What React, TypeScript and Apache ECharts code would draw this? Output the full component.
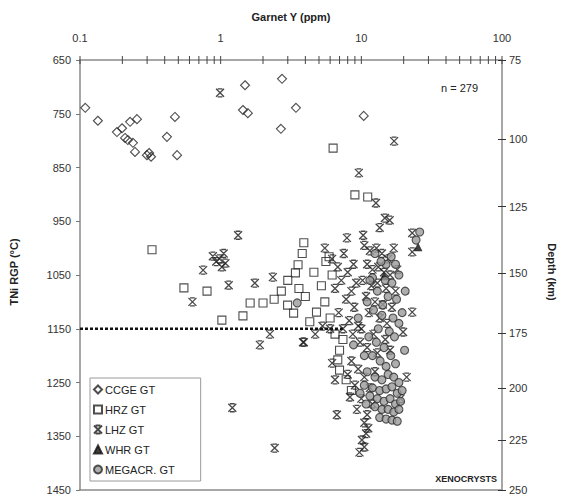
import React, { useEffect, useRef } from 'react';
import * as echarts from 'echarts';

// Garnet Y (ppm), TNi temperature (°C)
const ccgeGT: number[][] = [
  [0.109, 739], [0.134, 763], [0.183, 784], [0.199, 777], [0.227, 765], [0.254, 760],
  [0.209, 795], [0.219, 799], [0.238, 804], [0.246, 821], [0.299, 827], [0.32, 830],
  [0.31, 823], [0.473, 756], [0.415, 793], [0.49, 827], [1.49, 697], [1.44, 743],
  [1.56, 749], [2.73, 685], [3.43, 739], [2.68, 778], [10.4, 754],
];

const hrzGT: number[][] = [
  [0.325, 1003], [0.548, 1074], [0.8, 1080], [1.02, 1134], [1.44, 1126], [1.62, 1102],
  [2.0, 1102], [6.3, 814], [9.0, 901], [11.1, 905], [3.9, 990], [3.8, 1010],
  [3.55, 1031], [3.4, 1046], [5.9, 1016], [5.6, 1025], [3.0, 1060], [2.7, 1080],
  [2.99, 1106], [3.3, 1121], [4.8, 1119], [4.3, 1137], [4.0, 1090], [5.2, 1070],
  [6.2, 1050], [4.6, 1045], [2.4, 1095], [7.0, 1190], [6.8, 1208], [7.0, 1227],
  [7.4, 1170], [6.5, 1160], [7.8, 1245], [8.5, 1265], [3.6, 1075], [5.5, 1100], [6.0, 1130],
];

const lhzGT: number[][] = [
  [0.99, 711], [17.1, 801], [9.6, 860], [1.33, 976], [0.75, 1041], [0.88, 1015],
  [0.98, 1020], [1.08, 1028], [1.02, 1035], [0.93, 1025], [1.05, 1010], [1.14, 1069],
  [0.63, 1100], [1.75, 1065], [1.9, 1180], [1.21, 1297], [2.42, 1372],
  [10.1, 1357], [10.8, 1345], [9.7, 1380], [10.5, 1370], [11.2, 1335],
  [23, 1119], [19.8, 1156], [23, 1007], [23, 972], [21, 1240], [19, 1280],
  [12.7, 916], [14.7, 944], [15.9, 948], [13.5, 962], [10.3, 976], [7.9, 981], [2.35, 1054],
  [5.5, 1000], [6.2, 1020], [6.8, 1035], [7.5, 1010], [8.0, 1045], [8.8, 1030],
  [7.2, 1060], [6.5, 1075], [8.5, 1080], [9.2, 1065], [7.8, 1095], [8.9, 1110],
  [6.9, 1120], [8.2, 1135], [9.5, 1145], [7.4, 1150], [6.0, 1150], [5.3, 1145],
  [4.7, 1160], [3.9, 1175], [8.7, 1160], [9.8, 1175],
  [10.5, 995], [11.5, 1005], [12.8, 1000], [14.0, 1010], [15.5, 1020], [17.0, 1000],
  [11.0, 1030], [12.0, 1040], [13.2, 1035], [14.5, 1045], [16.0, 1050], [18.0, 1040],
  [10.2, 1060], [11.8, 1070], [13.0, 1065], [15.0, 1075], [17.5, 1080], [10.8, 1090],
  [12.5, 1100], [14.2, 1105], [16.5, 1110], [11.3, 1120], [13.5, 1130], [15.2, 1140],
  [10.0, 1150], [12.2, 1160], [14.8, 1170], [11.0, 1185], [13.0, 1195], [16.0, 1190],
  [8.5, 1210], [9.5, 1225], [10.5, 1240], [9.0, 1255], [11.5, 1260], [8.0, 1235],
  [10.0, 1280], [12.0, 1290], [9.3, 1300], [11.0, 1310], [10.5, 1325], [12.5, 1230],
  [6.2, 1214], [6.5, 1245], [8.3, 1277], [6.7, 1310], [3.85, 1175], [2.24, 1160],
];

const whrGT: number[][] = [
  [25.3, 998], [14.5, 1052],
];

const megacrGT: number[][] = [
  [26, 970], [24.5, 985], [16.3, 1016], [15, 1030], [3.5, 1102], [14.2, 1106], [20.3, 1190],
  [12.5, 1010], [13.8, 1025], [17.5, 1030], [18.5, 1050], [12.0, 1055], [14.8, 1060],
  [16.5, 1065], [13.0, 1080], [15.5, 1090], [17.8, 1095], [12.2, 1115], [14.0, 1125],
  [16.8, 1130], [18.5, 1140], [13.2, 1150], [15.8, 1155], [17.2, 1165], [12.8, 1175],
  [14.5, 1185], [16.2, 1200], [13.6, 1210], [15.0, 1220], [17.5, 1215], [12.0, 1200], [11.3, 1165],
  [11.0, 1230], [12.5, 1240], [14.0, 1245], [15.5, 1235], [17.0, 1240], [18.5, 1250],
  [10.5, 1255], [12.0, 1260], [13.5, 1265], [15.0, 1262], [16.5, 1258], [18.0, 1270],
  [19.5, 1265], [11.5, 1275], [13.0, 1280], [14.5, 1285], [16.0, 1280], [17.5, 1290],
  [19.0, 1285], [12.5, 1295], [14.0, 1300], [15.5, 1300], [17.0, 1305], [18.5, 1300],
  [13.5, 1315], [15.0, 1318], [16.5, 1320], [18.0, 1322], [10.8, 1290], [9.8, 1270],
  [9.5, 1130], [11.0, 1100], [10.5, 1200], [8.8, 1180], [11.5, 1060], [19.5, 1120], [20.5, 1080],
];

// 1150 °C reference line (dotted)
const refLineX = [0.1, 7.5];
const refLineT = 1150;

// axis ticks
const tempTicks = [650, 750, 850, 950, 1050, 1150, 1250, 1350, 1450];
const yLabelTicks = [0.1, 1, 10, 100];
const yMinorTicks = [
  0.1, 0.2, 0.3, 0.4, 0.5, 0.6, 0.7, 0.8, 0.9,
  1, 2, 3, 4, 5, 6, 7, 8, 9,
  10, 20, 30, 40, 50, 60, 70, 80, 90, 100,
];
const depthTicks = [75, 100, 125, 150, 175, 200, 225, 250];
const depthTemps = [650, 797, 923, 1046, 1158, 1260, 1357, 1450];

const FONT = '"Liberation Sans", Arial, sans-serif';
const AXIS_COLOR = '#8a8a8a';
const LHZ_SYMBOL = 'path://M0,0 L8,8 M8,0 L0,8 M1.6,0 L6.4,0 M1.6,8 L6.4,8';

export default function App() {
  const ref = useRef<HTMLDivElement>(null);
  useEffect(() => {
    if (!ref.current) return;
    const chart = echarts.init(ref.current, undefined, { renderer: 'svg' });
    const depthLabel = (v: number) => {
      let best = 0;
      for (let i = 0; i < depthTemps.length; i++) {
        if (Math.abs(depthTemps[i] - v) < Math.abs(depthTemps[best] - v)) best = i;
      }
      return String(depthTicks[best]);
    };
    const topTemp = tempTicks[0];
    const option: any = {
      animation: false,
      backgroundColor: '#fff',
      textStyle: { fontFamily: FONT },
      grid: { left: 80, top: 60, width: 422, height: 430 },
      xAxis: [
        {
          type: 'log', position: 'top', min: 0.1, max: 100, logBase: 10,
          axisLine: { show: true, lineStyle: { color: AXIS_COLOR, width: 1.5 } },
          axisTick: { show: false },
          axisLabel: { customValues: yLabelTicks, margin: 17, fontSize: 11, color: '#333', fontFamily: FONT, formatter: (v: number) => String(v) },
          splitLine: { show: false },
        },
        {
          type: 'log', position: 'bottom', min: 0.1, max: 100, logBase: 10,
          axisLine: { show: true, lineStyle: { color: AXIS_COLOR, width: 1.5 } },
          axisTick: { show: false }, axisLabel: { show: false }, splitLine: { show: false },
        },
      ],
      yAxis: [
        {
          type: 'value', min: 650, max: 1450, inverse: true, position: 'left',
          axisLine: { show: true, lineStyle: { color: AXIS_COLOR, width: 1.5 } },
          axisTick: { show: true, inside: false, length: 4, customValues: tempTicks, lineStyle: { color: '#777' } },
          axisLabel: { customValues: tempTicks, margin: 9, fontSize: 11, color: '#333', fontFamily: FONT, formatter: (v: number) => String(v) },
          splitLine: { show: false },
        },
        {
          type: 'value', min: 650, max: 1450, inverse: true, position: 'right',
          axisLine: { show: true, lineStyle: { color: AXIS_COLOR, width: 1.5 } },
          axisTick: { show: true, inside: false, length: 4, customValues: depthTemps, lineStyle: { color: '#333' } },
          axisLabel: { customValues: depthTemps, margin: 7, fontSize: 11, color: '#333', fontFamily: FONT, formatter: depthLabel },
          splitLine: { show: false },
        },
        {
          type: 'value', min: 650, max: 1450, inverse: true, position: 'right',
          axisLine: { show: false },
          axisTick: { show: true, inside: true, length: 4, customValues: depthTemps, lineStyle: { color: '#333' } },
          axisLabel: { show: false }, splitLine: { show: false },
        },
      ],
      legend: {
        orient: 'vertical', left: 90, top: 378,
        data: ['CCGE GT', 'HRZ GT', 'LHZ GT', 'WHR GT', 'MEGACR. GT'],
        itemWidth: 8, itemHeight: 8, itemGap: 7,
        padding: [5, 26, 5, 3],
        borderColor: '#9a9a9a', borderWidth: 1, backgroundColor: '#fff',
        textStyle: { fontSize: 11, color: '#222', fontFamily: FONT, lineHeight: 13, padding: [0, 0, 0, -2] },
        selectedMode: false,
      },
      graphic: [
        { type: 'text', x: 291, y: 17, style: { text: 'Garnet Y (ppm)', font: `bold 11px ${FONT}`, fill: '#222', align: 'center', verticalAlign: 'middle' } },
        { type: 'text', x: 14, y: 272, rotation: Math.PI / 2, style: { text: 'TNi RGP (°C)', font: `bold 11px ${FONT}`, fill: '#222', align: 'center', verticalAlign: 'middle' } },
        { type: 'text', x: 552, y: 272, rotation: -Math.PI / 2, style: { text: 'Depth (km)', font: `bold 11px ${FONT}`, fill: '#222', align: 'center', verticalAlign: 'middle' } },
        { type: 'text', x: 441, y: 88, style: { text: 'n = 279', font: `11px ${FONT}`, fill: '#222', align: 'left', verticalAlign: 'middle' } },
        { type: 'text', x: 497, y: 479, style: { text: 'XENOCRYSTS', font: `bold 9px ${FONT}`, fill: '#222', align: 'right', verticalAlign: 'middle' } },
      ],
      series: [
        {
          name: 'ref1150', type: 'line', xAxisIndex: 0, yAxisIndex: 0,
          data: refLineX.map((x) => [x, refLineT]), showSymbol: false, silent: true,
          lineStyle: { color: '#111', width: 2.5, type: [3, 2] }, z: 1,
        },
        {
          name: 'CCGE GT', type: 'scatter', xAxisIndex: 0, yAxisIndex: 0, data: ccgeGT,
          symbol: 'diamond', symbolSize: 9,
          itemStyle: { color: 'rgba(255,255,255,0)', borderColor: '#222', borderWidth: 1.1 },
        },
        {
          name: 'HRZ GT', type: 'scatter', xAxisIndex: 0, yAxisIndex: 0, data: hrzGT,
          symbol: 'rect', symbolSize: [8, 8],
          itemStyle: { color: 'rgba(255,255,255,0)', borderColor: '#222', borderWidth: 1.1 },
        },
        {
          name: 'LHZ GT', type: 'scatter', xAxisIndex: 0, yAxisIndex: 0, data: lhzGT,
          symbol: LHZ_SYMBOL, symbolSize: 8,
          itemStyle: { color: 'rgba(255,255,255,0)', borderColor: '#1a1a1a', borderWidth: 1.3 },
        },
        {
          name: 'WHR GT', type: 'scatter', xAxisIndex: 0, yAxisIndex: 0, data: whrGT,
          symbol: 'triangle', symbolSize: 8,
          itemStyle: { color: '#111', borderColor: '#111', borderWidth: 0.5 },
        },
        {
          name: 'MEGACR. GT', type: 'scatter', xAxisIndex: 0, yAxisIndex: 0, data: megacrGT,
          symbol: 'circle', symbolSize: 8,
          itemStyle: { color: '#9a9a9a', borderColor: '#2a2a2a', borderWidth: 1.1 },
        },
        {
          name: 'topTicks', type: 'custom', xAxisIndex: 0, yAxisIndex: 0,
          data: yMinorTicks.map((x) => [x, 1000]), silent: true, z: 10,
          renderItem: (_params: any, api: any) => {
            const p = api.coord([api.value(0), topTemp]);
            return {
              type: 'line',
              shape: { x1: p[0], y1: p[1] - 4, x2: p[0], y2: p[1] + 4 },
              style: { stroke: '#444', lineWidth: 1 },
            };
          },
        },
      ],
    };
    chart.setOption(option);
    return () => chart.dispose();
  }, []);
  return <div ref={ref} style={{ position: 'absolute', left: 0, top: 0, width: 567, height: 500 }} />;
}
